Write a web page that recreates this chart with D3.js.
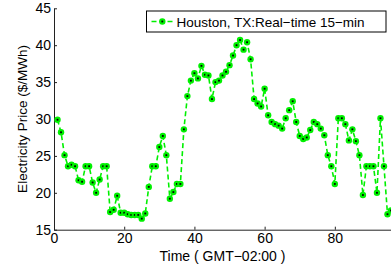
<!DOCTYPE html>
<html>
<head>
    <title>Houston real-time price</title>
    <style type="text/css">
        body { margin: 0; background: #fff; }
        svg text {
            font-family: "Liberation Sans", Arial, Helvetica, sans-serif;
            font-size: 14px;
            fill: #000;
        }
    </style>
</head>
<body>
    <script src="https://d3js.org/d3.v7.min.js" type="text/javascript"></script>
    <script type="text/javascript">

        // 15-min intervals of the day
        var times = d3.range(1, 97);
        var prices = [
            29.9, 28.2, 25.1, 23.6, 23.8, 23.6, 21.7, 21.5, 23.6, 23.6,
            21.4, 20.0, 21.8, 23.6, 23.6, 17.4, 17.7, 19.6, 17.3, 17.3,
            17.1, 17.0, 17.0, 17.0, 16.5, 17.2, 20.8, 23.6, 23.6, 26.2,
            27.7, 25.1, 19.2, 20.1, 21.2, 21.2, 28.6, 33.1, 35.2, 36.2,
            35.5, 37.2, 36.0, 35.9, 32.7, 35.0, 35.2, 35.9, 36.4, 37.3,
            38.6, 40.0, 40.7, 39.4, 40.4, 38.1, 32.7, 32.1, 31.7, 34.1,
            30.5, 29.6, 29.3, 29.1, 28.7, 30.1, 31.2, 32.4, 29.6, 27.7,
            27.3, 27.5, 28.5, 29.6, 29.3, 28.7, 27.8, 25.1, 23.6, 21.2,
            30.1, 30.1, 29.3, 27.1, 28.6, 27.0, 25.1, 19.7, 23.6, 23.6,
            23.6, 20.0, 30.1, 23.6, 17.1, 17.6
        ];
        var xTicks = [0, 20, 40, 60, 80];
        var yTicks = [15, 20, 25, 30, 35, 40, 45];
        var legendLabel = 'Houston, TX:Real\u2212time 15\u2212min';

        var W = 391, H = 269;
        var green = '#00f000';

        var svg = d3.select('body').append('svg')
            .attr('width', W)
            .attr('height', H);

        var x = d3.scaleLinear().domain([0, 96]).range([54, 391]);
        var y = d3.scaleLinear().domain([15, 45]).range([229.7, 8.3]);

        // axes, ticks pointing inward like matlab
        var xAxis = d3.axisBottom(x).tickValues(xTicks).tickSizeInner(-3).tickSizeOuter(0).tickPadding(5);
        var yAxis = d3.axisLeft(y).tickValues(yTicks).tickSizeInner(-3).tickSizeOuter(0).tickPadding(3);

        var gx = svg.append('g').attr('transform', 'translate(0,' + y(15) + ')').call(xAxis);
        var gy = svg.append('g').attr('transform', 'translate(' + x(0) + ',0)').call(yAxis);
        [gx, gy].forEach(function (g) {
            g.selectAll('text').style('font-size', '14px').attr('fill', '#000');
            g.selectAll('line, path').attr('stroke', '#222');
        });
        gx.selectAll('text').attr('dy', '0.62em');

        // series
        var pts = times.map(function (t, i) { return [t, prices[i]]; });
        var line = d3.line().x(function (d) { return x(d[0]); }).y(function (d) { return y(d[1]); });

        svg.append('path')
            .datum(pts)
            .attr('d', line)
            .attr('fill', 'none')
            .attr('stroke', green)
            .attr('stroke-width', 1.6)
            .attr('stroke-dasharray', '5,3');

        var mk = svg.append('g').selectAll('g')
            .data(pts)
            .enter().append('g')
            .attr('transform', function (d) { return 'translate(' + x(d[0]) + ',' + y(d[1]) + ')'; });
        mk.append('circle').attr('r', 3.2).attr('fill', green);
        mk.append('rect').attr('x', -0.9).attr('y', -0.9).attr('width', 1.8).attr('height', 1.8).attr('fill', '#000');

        // axis labels
        svg.append('text')
            .attr('x', (x(0) + x(96)) / 2)
            .attr('y', 260.5)
            .attr('text-anchor', 'middle')
            .text('Time ( GMT\u221202:00 )');

        svg.append('text')
            .attr('transform', 'translate(27,' + (y(30)) + ') rotate(-90)')
            .attr('text-anchor', 'middle')
            .style('font-size', '13.5px')
            .text('Electricity Price ($/MWh)');

        // legend
        var lg = svg.append('g');
        lg.append('rect')
            .attr('x', 146.5).attr('y', 11)
            .attr('width', 239.5).attr('height', 21)
            .attr('fill', '#fff').attr('stroke', '#000').attr('stroke-width', 1);
        lg.append('line')
            .attr('x1', 151.5).attr('x2', 173).attr('y1', 21.5).attr('y2', 21.5)
            .attr('stroke', green).attr('stroke-width', 1.6).attr('stroke-dasharray', '5,3');
        lg.append('circle').attr('cx', 162.3).attr('cy', 21.5).attr('r', 3.2).attr('fill', green);
        lg.append('rect').attr('x', 161.4).attr('y', 20.6).attr('width', 1.8).attr('height', 1.8).attr('fill', '#000');
        lg.append('text')
            .attr('x', 176.5).attr('y', 26.5)
            .style('font-size', '13.5px')
            .text(legendLabel);
    </script>
</body>
</html>
